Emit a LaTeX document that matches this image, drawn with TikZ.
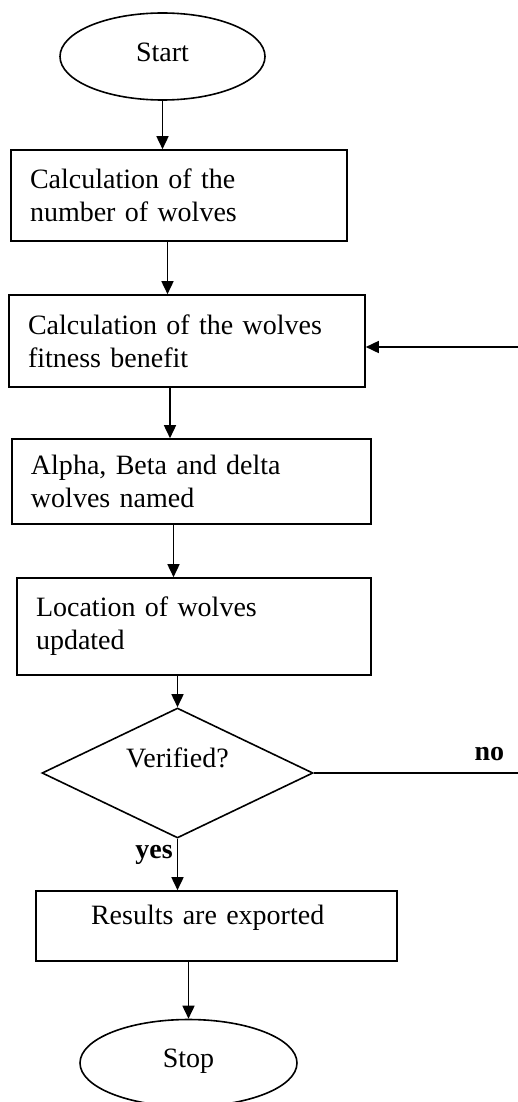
\documentclass[tikz,border=0pt]{standalone}
\usepackage{fontspec}
\setmainfont{Liberation Serif}
\usetikzlibrary{shapes.geometric,arrows.meta,calc}
\tikzset{process box/.style={draw=black, rectangle, align=left, inner xsep=9.5pt, inner ysep=0pt, line width=0.8pt}}
\tikzset{terminal/.style={draw=black, ellipse, inner sep=0pt, line width=0.8pt}}
\tikzset{decision/.style={draw=black, diamond, aspect=2, inner sep=0pt, line width=0.8pt}}
\tikzset{flow/.style={-{Triangle[length=6.5pt,width=6pt]}, line width=0.8pt}}

\begin{document}
\begin{tikzpicture}[x=0.5pt, y=-0.5pt, font=\fontsize{14}{16.5}\selectfont]
\useasboundingbox (0,0) rectangle (518,1102);
\node[terminal, minimum width=102.5pt, minimum height=43.5pt, text depth=4pt] (start) at (162.5,56.5) {Start};
\node[process box, text width=149pt, minimum height=45.5pt] (count) at (179,195.5) {Calculation of the\\number of wolves};
\node[process box, text width=159pt, minimum height=46pt] (fitness) at (187,341) {Calculation of the wolves\\fitness benefit};
\node[process box, text width=160.5pt, minimum height=42.5pt] (leaders) at (191.5,481.5) {Alpha, Beta and delta\\wolves named};
\node[process box, text width=158pt, minimum height=48.5pt] (update) at (194,626.5) {Location of wolves\\updated};
\node[decision, minimum width=135.5pt, minimum height=65pt, text depth=15pt] (check) at (177.5,773) {Verified?};
\node[process box, inner xsep=27.5pt, text width=125.5pt, text depth=10.8pt, minimum height=35pt] (export) at (216.5,926) {Results are exported};
\node[terminal, minimum width=108.5pt, minimum height=43.5pt, text depth=5pt] (stop) at (188.5,1063) {Stop};
\coordinate (countout) at ($(count.south)+(-11.5,0)$);
\coordinate (fitnessout) at ($(fitness.south)+(-17,0)$);
\coordinate (leadersout) at ($(leaders.south)+(-18,0)$);
\coordinate (noout) at (518,773);
\coordinate (backin) at (518,347);
% main flow
\draw[flow] (start.south) -- (start.south |- count.north);
\draw[flow] (countout) -- (countout |- fitness.north);
\draw[flow] (fitnessout) -- (fitnessout |- leaders.north);
\draw[flow] (leadersout) -- (leadersout |- update.north);
\draw[flow] (update.south -| check.north) -- (check.north);
\draw[flow] (check.south) -- node[left, pos=0.32, inner sep=2pt] {\textbf{yes}} (check.south |- export.north);
\draw[flow] (export.south -| stop.north) -- (stop.north);
% loop back
\draw[line width=0.8pt] (check.east) -- node[above, pos=0.86, yshift=2.5pt] {\textbf{no}} (noout);
\draw[flow] (backin) -- (backin -| fitness.east);
\end{tikzpicture}
\end{document}
